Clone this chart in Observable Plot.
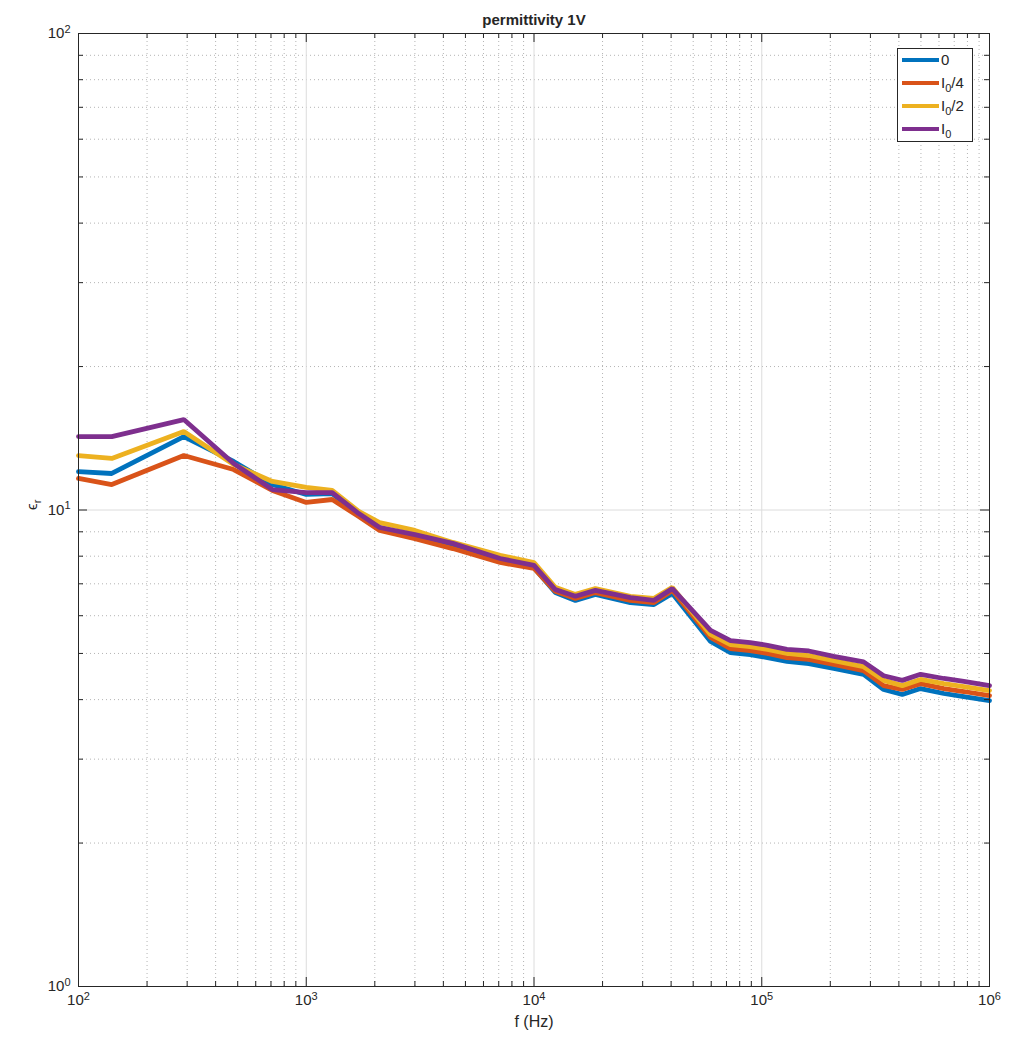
<!DOCTYPE html>
<html><head><meta charset="utf-8">
<script src="https://cdn.jsdelivr.net/npm/d3@7"></script>
<script src="https://cdn.jsdelivr.net/npm/@observablehq/plot@0.6"></script>
<style>
body{margin:0;background:#fff;font-family:"Liberation Sans",Arial,sans-serif;}
#wrap{position:relative;width:1024px;height:1040px;}
.legend{position:absolute;left:897px;top:48px;width:76px;height:94px;border:1px solid #262626;background:#fff;box-sizing:border-box;}
.row{position:absolute;left:0;width:74px;height:20px;}
.sw{position:absolute;left:4px;top:8px;width:37px;height:4px;}
.lab{position:absolute;left:43px;top:0;line-height:20px;font-size:15px;color:#262626;white-space:nowrap;}
.lab sub{font-size:11px;vertical-align:-4px;line-height:0;}
</style></head><body><div id="wrap"></div>
<script>
const freq = [100, 140, 290, 480, 710, 1000, 1300, 1700, 2100, 3000, 4400, 7100, 10000, 12400, 15200, 18600, 26500, 33500, 40500, 59600, 72900, 89000, 106000, 129000, 161000, 207000, 280000, 343000, 414000, 498000, 630000, 771000, 1000000];
const eps0 = [12.04, 11.93, 14.26, 12.64, 11.31, 10.78, 10.83, 9.79, 9.19, 8.80, 8.38, 7.80, 7.57, 6.71, 6.46, 6.65, 6.39, 6.33, 6.68, 5.30, 5.02, 4.97, 4.90, 4.81, 4.76, 4.65, 4.52, 4.20, 4.10, 4.22, 4.12, 4.06, 3.98];
const epsQuarter = [11.65, 11.31, 13.01, 12.16, 10.99, 10.37, 10.52, 9.69, 9.06, 8.71, 8.30, 7.76, 7.54, 6.75, 6.52, 6.71, 6.46, 6.39, 6.78, 5.40, 5.12, 5.07, 5.00, 4.90, 4.86, 4.74, 4.60, 4.28, 4.20, 4.32, 4.22, 4.16, 4.08];
const epsHalf = [13.01, 12.83, 14.61, 12.46, 11.48, 11.15, 10.99, 9.93, 9.41, 9.06, 8.55, 8.03, 7.76, 6.88, 6.65, 6.84, 6.59, 6.52, 6.88, 5.48, 5.22, 5.17, 5.10, 5.00, 4.95, 4.83, 4.69, 4.39, 4.28, 4.41, 4.32, 4.26, 4.18];
const epsFull = [14.26, 14.26, 15.48, 12.52, 11.04, 10.88, 10.88, 9.83, 9.19, 8.88, 8.51, 7.91, 7.65, 6.81, 6.59, 6.78, 6.55, 6.46, 6.84, 5.59, 5.32, 5.27, 5.20, 5.10, 5.06, 4.93, 4.80, 4.49, 4.39, 4.52, 4.43, 4.37, 4.28];
const seriesNames = ["0", "I_0/4", "I_0/2", "I_0"];
const seriesColors = ["#0072BD", "#D95319", "#EDB120", "#7E2F8E"];
const xDecades = [100, 1000, 10000, 100000, 1000000];
const yDecades = [1, 10, 100];
const titleText = "permittivity 1V";
const xLabel = "f (Hz)";
const yLabel = "\u03F5_r";

const seriesValues = [eps0, epsQuarter, epsHalf, epsFull];
const rows = seriesNames.flatMap((s, j) => freq.map((f, i) => ({f, v: seriesValues[j][i], s})));

const xMinor = [], yMinor = [];
xDecades.slice(0, -1).forEach(d => { for (let k = 2; k <= 9; k++) xMinor.push(d * k); });
yDecades.slice(0, -1).forEach(d => { for (let k = 2; k <= 9; k++) yMinor.push(d * k); });

const W = 1024, H = 1040, mL = 78, mR = 35, mT = 33, mB = 54;
const innerW = W - mL - mR, innerH = H - mT - mB;
const majLen = 9, minLen = 5;
const axisColor = "#262626";
const exp = d => "10^" + Math.round(Math.log10(d));

const chart = Plot.plot({
  width: W, height: H,
  marginLeft: mL, marginRight: mR, marginTop: mT, marginBottom: mB,
  style: {color: axisColor, background: "white", fontFamily: "'Liberation Sans', Arial, sans-serif", fontSize: "15px"},
  x: {type: "log", domain: [100, 1e6]},
  y: {type: "log", domain: [1, 100]},
  color: {domain: seriesNames, range: seriesColors},
  marks: [
    Plot.ruleX(xMinor, {stroke: "#b4b4b4", strokeDasharray: "1,3"}),
    Plot.ruleY(yMinor, {stroke: "#b4b4b4", strokeDasharray: "1,3"}),
    Plot.ruleX(xDecades.slice(1, -1), {stroke: "#dcdcdc"}),
    Plot.ruleY(yDecades.slice(1, -1), {stroke: "#dcdcdc"}),
    Plot.line(rows, {x: "f", y: "v", z: "s", stroke: "s", strokeWidth: 4.8, strokeLinejoin: "miter"}),
    // inward ticks, all four sides
    Plot.ruleX(xDecades, {stroke: axisColor, insetTop: innerH - majLen}),
    Plot.ruleX(xDecades, {stroke: axisColor, insetBottom: innerH - majLen}),
    Plot.ruleX(xMinor, {stroke: axisColor, insetTop: innerH - minLen}),
    Plot.ruleX(xMinor, {stroke: axisColor, insetBottom: innerH - minLen}),
    Plot.ruleY(yDecades, {stroke: axisColor, insetRight: innerW - majLen}),
    Plot.ruleY(yDecades, {stroke: axisColor, insetLeft: innerW - majLen}),
    Plot.ruleY(yMinor, {stroke: axisColor, insetRight: innerW - minLen}),
    Plot.ruleY(yMinor, {stroke: axisColor, insetLeft: innerW - minLen}),
    Plot.frame({stroke: axisColor}),
    Plot.axisX({ticks: xDecades, tickSize: 0, tickPadding: 8, tickFormat: exp, fontSize: 15, label: null}),
    Plot.axisY({ticks: yDecades, tickSize: 0, tickPadding: 8, tickFormat: exp, fontSize: 15, label: null}),
    Plot.text([titleText], {frameAnchor: "top", dy: -19, fontWeight: "bold", fontSize: 15}),
    Plot.text([xLabel], {frameAnchor: "bottom", dy: 40, fontSize: 16}),
    Plot.text([yLabel], {frameAnchor: "left", dx: -46, rotate: -90, fontSize: 15})
  ]
});

// superscripts / subscripts in texts
const NS = "http://www.w3.org/2000/svg";
chart.querySelectorAll("text").forEach(t => {
  if (t.querySelector("tspan")) return;
  const s = t.textContent;
  let m = s.match(/^(.*)\^(.*)$/);
  if (m) {
    t.textContent = m[1];
    const ts = document.createElementNS(NS, "tspan");
    ts.setAttribute("dy", "-0.5em"); ts.setAttribute("font-size", "11"); ts.textContent = m[2];
    t.appendChild(ts);
    return;
  }
  m = s.match(/^(.*)_(.*)$/);
  if (m) {
    t.textContent = m[1];
    const ts = document.createElementNS(NS, "tspan");
    ts.setAttribute("dy", "0.35em"); ts.setAttribute("font-size", "11"); ts.textContent = m[2];
    t.appendChild(ts);
  }
});

const wrap = document.getElementById("wrap");
wrap.appendChild(chart);

// legend
const leg = document.createElement("div");
leg.className = "legend";
seriesNames.forEach((n, i) => {
  const r = document.createElement("div");
  r.className = "row";
  r.style.top = (1 + i * 23) + "px";
  const sw = document.createElement("span");
  sw.className = "sw"; sw.style.background = seriesColors[i];
  const lab = document.createElement("span");
  lab.className = "lab";
  lab.innerHTML = n.replace(/_(\d)/, "<sub>$1</sub>");
  r.appendChild(sw); r.appendChild(lab);
  leg.appendChild(r);
});
wrap.appendChild(leg);
</script>
</body></html>
